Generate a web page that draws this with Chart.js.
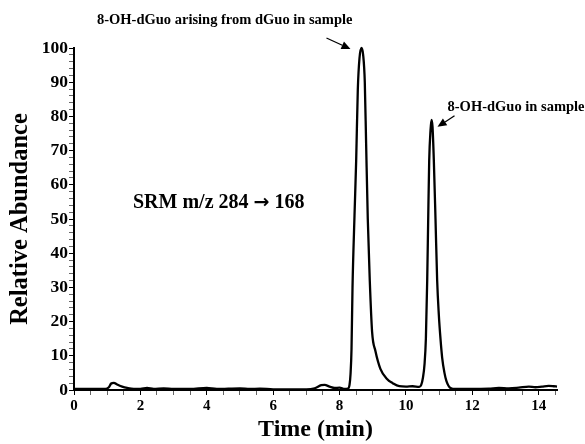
<!DOCTYPE html>
<html><head><meta charset="utf-8">
<script src="https://cdn.jsdelivr.net/npm/chart.js@4/dist/chart.umd.min.js"></script>
<style>html,body{margin:0;padding:0;background:#fff;overflow:hidden}</style>
</head><body>
<canvas id="c" width="585" height="444"></canvas>
<script>
// ---- data ----
const timeMin = [0.0,0.5,0.95,1.05,1.12,1.2,1.3,1.45,1.6,1.8,2.0,2.2,2.4,2.7,3.0,3.5,4.0,4.3,5.0,5.3,5.6,6.0,6.5,7.0,7.25,7.45,7.55,7.7,7.85,8.0,8.15,8.25,
  8.3,8.33,8.36,8.39,8.45,8.5,8.55,8.6,8.66,8.71,8.76,8.8,8.85,8.91,8.98,9.08,9.23,9.43,9.6,9.8,10.0,10.2,10.4,
  10.46,10.51,10.56,10.6,10.64,10.67,10.7,10.74,10.77,10.8,10.84,10.89,10.94,10.99,11.04,11.09,11.16,11.22,11.34,11.5,
  12.0,12.5,12.8,13.1,13.4,13.7,13.9,14.1,14.3,14.45,14.55];
const abundance = [0.3,0.3,0.3,0.8,1.9,2.1,1.6,1.0,0.6,0.3,0.3,0.6,0.3,0.5,0.3,0.3,0.6,0.3,0.5,0.3,0.4,0.2,0.2,0.2,0.5,1.4,1.5,1.0,0.6,0.7,0.3,0.4,
  1.5,4.6,12,30,51,67,88,97,100,98,90,72,50,32,17,11.4,6.2,3.2,2.0,1.1,1.0,1.1,0.9,
  1.5,3.5,7.6,15,32,50,67,76,79,77,67,50,32,22,15,9.5,5,2.6,0.6,0.3,
  0.3,0.4,0.6,0.5,0.7,1.0,0.8,1.0,1.2,1.1,1.0];
const xTickLabels = [0,2,4,6,8,10,12,14];
const yTickLabels = [0,10,20,30,40,50,60,70,80,90,100];
const peakLabels = ["8-OH-dGuo arising from dGuo in sample", "8-OH-dGuo in sample"];
const peakTimes = [8.66, 10.77];
const peakHeights = [100, 79];
const srmParts = ["SRM m/z 284 ", "\u2192", " 168"];
const xTitle = "Time (min)";
const yTitle = "Relative Abundance";

const SERIF = "'Liberation Serif','Times New Roman',serif";
const isMult = (v, m) => Math.abs(v / m - Math.round(v / m)) < 1e-6;

function arrow(ctx, x1, y1, x2, y2) {
  const ang = Math.atan2(y2 - y1, x2 - x1), L = 9, W = 4;
  ctx.beginPath(); ctx.moveTo(x1, y1);
  ctx.lineTo(x2 - L * Math.cos(ang), y2 - L * Math.sin(ang));
  ctx.lineWidth = 1.3; ctx.strokeStyle = '#000'; ctx.stroke();
  ctx.beginPath(); ctx.moveTo(x2, y2);
  ctx.lineTo(x2 - L * Math.cos(ang) + W * Math.sin(ang), y2 - L * Math.sin(ang) - W * Math.cos(ang));
  ctx.lineTo(x2 - L * Math.cos(ang) - W * Math.sin(ang), y2 - L * Math.sin(ang) + W * Math.cos(ang));
  ctx.closePath(); ctx.fillStyle = '#000'; ctx.fill();
}

const annot = {
  id: 'annot',
  afterDraw(chart) {
    const ctx = chart.ctx, xs = chart.scales.x, ys = chart.scales.y;
    ctx.save();
    ctx.fillStyle = '#000';
    // peak 1
    let px = xs.getPixelForValue(peakTimes[0]), py = ys.getPixelForValue(peakHeights[0]);
    ctx.font = "bold 14.5px " + SERIF; ctx.textAlign = 'right'; ctx.textBaseline = 'middle';
    ctx.fillText(peakLabels[0], px - 9, py - 28);
    arrow(ctx, px - 35, py - 10, px - 11, py + 1);
    // peak 2
    px = xs.getPixelForValue(peakTimes[1]); py = ys.getPixelForValue(peakHeights[1]);
    ctx.textAlign = 'left'; ctx.fillStyle = '#000';
    ctx.fillText(peakLabels[1], px + 16, py - 13);
    arrow(ctx, px + 23, py - 4, px + 6, py + 7);
    // SRM label (arrow glyph drawn in a font with a larger arrow)
    let x = chart.chartArea.left + 59; const y = ys.getPixelForValue(54.6);
    ctx.textAlign = 'left'; ctx.fillStyle = '#000';
    const fonts = ["bold 20px " + SERIF, "bold 19px 'DejaVu Sans'", "bold 20px " + SERIF];
    srmParts.forEach((p, i) => { ctx.font = fonts[i]; ctx.fillText(p, x, y); x += ctx.measureText(p).width; });
    ctx.restore();
  }
};

new Chart(document.getElementById('c'), {
  type: 'line',
  data: {
    datasets: [{
      data: timeMin.map((t, i) => ({ x: t, y: abundance[i] })),
      borderColor: '#000', borderWidth: 2.3, pointRadius: 0, fill: false,
      cubicInterpolationMode: 'monotone', clip: false
    }]
  },
  options: {
    responsive: false, animation: false,
    layout: { padding: { left: 0, top: 48, right: 28, bottom: 0 } },
    plugins: { legend: { display: false }, tooltip: { enabled: false } },
    scales: {
      x: {
        type: 'linear', min: 0, max: 14.55,
        border: { display: true, color: '#000', width: 2 },
        grid: { display: true, drawOnChartArea: false, drawTicks: true, tickLength: 5,
          tickColor: c => isMult(c.tick.value, 2) ? '#000' : '#666', lineWidth: 1 },
        ticks: { stepSize: 0.5, autoSkip: false, maxRotation: 0, includeBounds: false, padding: 2,
          color: '#000', font: { family: SERIF, size: 15, weight: 'bold' },
          callback: v => (isMult(v, 2) && xTickLabels.includes(Math.round(v))) ? String(Math.round(v)) : '' },
        title: { display: true, text: xTitle, color: '#000', padding: { top: 0, bottom: 0 },
          font: { family: SERIF, size: 24, weight: 'bold' } },
        afterFit: s => { s.height = 54; }
      },
      y: {
        type: 'linear', min: 0, max: 100,
        border: { display: true, color: '#000', width: 2 },
        grid: { display: true, drawOnChartArea: false, drawTicks: true, tickLength: 5,
          tickColor: c => isMult(c.tick.value, 10) ? '#000' : '#666', lineWidth: 1 },
        ticks: { stepSize: 2, autoSkip: false, padding: 1, color: '#000',
          font: { family: SERIF, size: 17.5, weight: 'bold' },
          callback: v => (isMult(v, 10) && yTickLabels.includes(Math.round(v))) ? String(Math.round(v)) : '' },
        title: { display: true, text: yTitle, color: '#000', padding: { top: 6, bottom: 0 },
          font: { family: SERIF, size: 24.5, weight: 'bold' } },
        afterFit: s => { s.width = 74; }
      }
    }
  },
  plugins: [annot]
});
</script>
</body></html>
